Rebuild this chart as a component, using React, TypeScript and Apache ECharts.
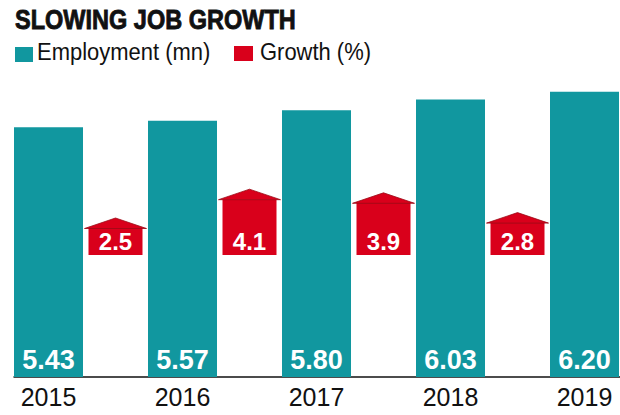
import React, { useEffect, useRef } from "react";
import * as echarts from "echarts";

const years = ["2015", "2016", "2017", "2018", "2019"];
const employment = [5.43, 5.57, 5.8, 6.03, 6.2];
// growth (%) between consecutive years
const growth = [2.5, 4.1, 3.9, 2.8];

const TITLE = "SLOWING JOB GROWTH";
const LEGEND_EMP = "Employment (mn)";
const LEGEND_GROWTH = "Growth (%)";

const TEAL = "#11979f";
const RED = "#d9001b";
const SANS = "'Liberation Sans', Arial, sans-serif";

export default function App() {
  const ref = useRef<HTMLDivElement>(null);
  useEffect(() => {
    document.body.style.margin = "0";
    const chart = echarts.init(ref.current!, null, { renderer: "svg" });
    const gridTop = 78;
    const gridBottomY = 377;
    const houseBaseY = 255;
    const pxPerUnit = 18;
    const houseMin = 1 - (gridBottomY - houseBaseY) / pxPerUnit;
    const houseMax = 1 + (houseBaseY - gridTop) / pxPerUnit;
    const xMin = -0.2575;
    const xMax = xMin + 606 / 134;

    chart.setOption({
      animation: false,
      grid: { left: 14, right: 0, top: gridTop, bottom: 415 - gridBottomY },
      xAxis: {
        type: "value",
        min: xMin,
        max: xMax,
        splitLine: { show: false },
        axisTick: { show: false },
        axisLine: { show: true, onZero: false, lineStyle: { color: "#111", width: 1.5 } },
        axisLabel: {
          customValues: years.map((_, i) => i),
          formatter: (v: number) => years[Math.round(v)] ?? "",
          fontFamily: SANS,
          fontSize: 25,
          color: "#111",
          margin: 7,
        },
      },
      yAxis: [
        { type: "value", min: 0, max: 6.5, show: false },
        { type: "value", min: houseMin, max: houseMax, show: false },
      ],
      series: [
        {
          name: LEGEND_EMP,
          type: "bar",
          data: employment.map((v, i) => [i, v]),
          barWidth: 69,
          itemStyle: { color: TEAL },
          label: {
            show: true,
            position: "insideBottom",
            distance: 4,
            formatter: (p: any) => Number(p.value[1]).toFixed(2),
            color: "#fff",
            fontFamily: SANS,
            fontWeight: "bold",
            fontSize: 27,
          },
        },
        {
          name: LEGEND_GROWTH,
          type: "custom",
          yAxisIndex: 1,
          itemStyle: { color: RED },
          data: growth.map((v, i) => [i, v]),
          encode: { x: 0, y: 1 },
          renderItem: (params: any, api: any) => {
            const i = api.value(0);
            const v = api.value(1);
            const a = api.coord([i + 0.5, 1]);
            const cx = a[0];
            const base = a[1];
            const top = api.coord([i + 0.5, v])[1];
            return {
              type: "group",
              children: [
                {
                  type: "rect",
                  shape: { x: cx - 27, y: top, width: 54, height: base - top },
                  style: { fill: RED },
                },
                {
                  type: "polygon",
                  shape: { points: [[cx - 31, top + 0.5], [cx, top - 10], [cx + 31, top + 0.5]] },
                  style: { fill: RED, stroke: "#9a0a16", lineWidth: 0.8 },
                },
                {
                  type: "text",
                  style: {
                    text: v.toFixed(1),
                    x: cx,
                    y: base - 14,
                    align: "center",
                    verticalAlign: "middle",
                    fill: "#fff",
                    fontFamily: SANS,
                    fontWeight: "bold",
                    fontSize: 24,
                  },
                },
              ],
            };
          },
        },
      ],
      graphic: [
        {
          type: "text",
          x: 15,
          y: 5,
          scaleX: 0.84,
          style: {
            text: TITLE,
            fontFamily: SANS,
            fontWeight: "bold",
            fontSize: 28,
            fill: "#111",
            stroke: "#111",
            lineWidth: 0.9,
            verticalAlign: "top",
          },
        },
        {
          type: "rect",
          shape: { x: 15, y: 47, width: 18, height: 15 },
          style: { fill: TEAL },
        },
        {
          type: "text",
          x: 37,
          y: 39.5,
          scaleX: 0.915,
          style: { text: LEGEND_EMP, fontFamily: SANS, fontSize: 24, fill: "#111", verticalAlign: "top" },
        },
        {
          type: "rect",
          shape: { x: 234, y: 46, width: 19, height: 15 },
          style: { fill: RED },
        },
        {
          type: "text",
          x: 260,
          y: 39.5,
          scaleX: 0.915,
          style: { text: LEGEND_GROWTH, fontFamily: SANS, fontSize: 24, fill: "#111", verticalAlign: "top" },
        },
      ],
    });
    return () => chart.dispose();
  }, []);
  return <div ref={ref} style={{ width: 620, height: 415, position: "absolute", left: 0, top: 0 }} />;
}
